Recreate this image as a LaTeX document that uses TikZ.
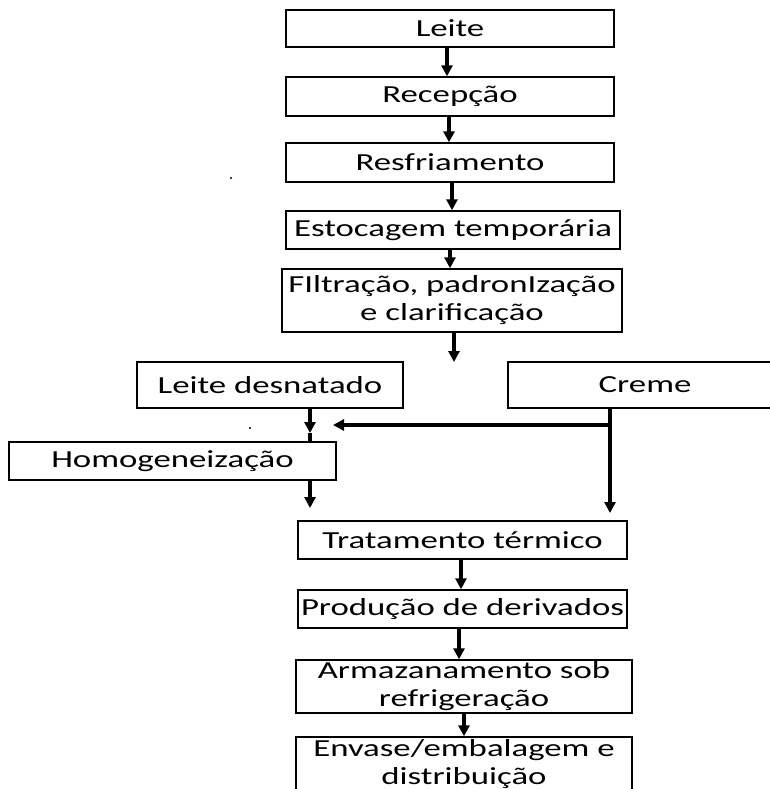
\documentclass[tikz,border=0pt]{standalone}
\usepackage{fontspec}
\setmainfont{Carlito}[FakeStretch=1.42]
\usetikzlibrary{arrows.meta}
\begin{document}
\begin{tikzpicture}[x=1pt,y=-1pt,
  box/.style={draw, line width=1.4pt, inner sep=0pt, align=center,
    font=\fontsize{24.5}{28}\selectfont},
  arr/.style={line width=3.2pt, -{Triangle[width=11pt,length=11pt]}},
  ln/.style={line width=3.2pt}]
\clip (0,0) rectangle (770,789);
% boxes
\node[box, minimum width=328pt, minimum height=37pt] (leite) at (450,28.5) {Leite};
\node[box, minimum width=328pt, minimum height=39pt] (recep) at (450,96.5) {Recepção};
\node[box, minimum width=328pt, minimum height=39pt] (resf) at (450,162.5) {Resfriamento};
\node[box, minimum width=334pt, minimum height=38pt] (estoc) at (453,230) {Estocagem temporária};
\node[box, minimum width=340pt, minimum height=63pt] (filtr) at (452,300.5) {FIltração, padronIzação\\e clarificação};
\node[box, minimum width=266pt, minimum height=46pt] (ld) at (270,385) {Leite desnatado};
\node[box, minimum width=274pt, minimum height=46pt] (creme) at (645,385) {Creme};
\node[box, minimum width=327pt, minimum height=38pt] (homog) at (172.5,461) {Homogeneização};
\node[box, minimum width=329pt, minimum height=38pt] (trat) at (462.5,540) {Tratamento térmico};
\node[box, minimum width=329pt, minimum height=38pt] (prod) at (462.5,609) {Produção de derivados};
\node[box, minimum width=336pt, minimum height=53pt] (armaz) at (464,686.5) {Armazanamento sob\\refrigeração};
\node[box, minimum width=336pt, minimum height=54pt] (envase) at (464,764) {Envase/embalagem e\\distribuição};
% free ends
\coordinate (fend) at (454,362);
\coordinate (ldhead) at (310,433);
\coordinate (junc) at (610,425);
\coordinate (jend) at (333,425);
\coordinate (cend) at (610,513);
\coordinate (hend) at (310,508);
% connectors
\draw[arr] ([xshift=-3pt]leite.south) -- ([xshift=-3pt]recep.north);
\draw[arr] ([xshift=-1pt]recep.south) -- ([xshift=-1pt]resf.north);
\draw[arr] ([xshift=2pt]resf.south) -- ([xshift=-1pt]estoc.north);
\draw[arr] ([xshift=-3pt]estoc.south) -- ([xshift=-2pt]filtr.north);
\draw[arr] ([xshift=2pt]filtr.south) -- (fend);
\draw[arr] ([xshift=40pt]ld.south) -- (ldhead);
\draw[ln] (ldhead) -- ([xshift=137.5pt]homog.north);
\draw[ln] ([xshift=-35pt]creme.south) -- (junc);
\draw[arr] (junc) -- (jend);
\draw[arr] (junc) -- (cend);
\draw[arr] ([xshift=137.5pt]homog.south) -- (hend);
\draw[arr] ([xshift=-1.5pt]trat.south) -- ([xshift=-1.5pt]prod.north);
\draw[arr] ([xshift=-3.5pt]prod.south) -- ([xshift=-5pt]armaz.north);
\draw[arr] (armaz.south) -- (envase.north);
% stray specks
\fill (231,178) circle (1.2pt);
\fill (250,428) circle (1.2pt);
\end{tikzpicture}
\end{document}
